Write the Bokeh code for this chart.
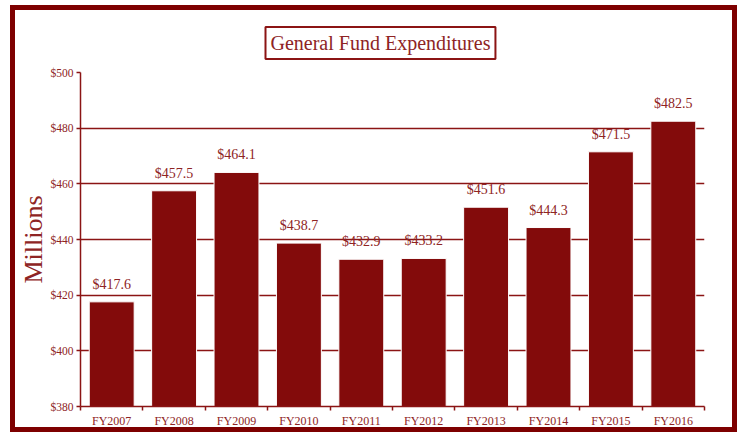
from bokeh.plotting import figure
from bokeh.models import Range1d, FixedTicker, ColumnDataSource, LabelSet, NumeralTickFormatter
from bokeh.embed import file_html
from bokeh.resources import INLINE

# ---- data ----
categories = ["FY2007", "FY2008", "FY2009", "FY2010", "FY2011",
              "FY2012", "FY2013", "FY2014", "FY2015", "FY2016"]
expenditures = [417.6, 457.5, 464.1, 438.7, 432.9, 433.2, 451.6, 444.3, 471.5, 482.5]
y_ticks = [380, 400, 420, 440, 460, 480, 500]
title_text = "General Fund Expenditures"
y_label = "Millions"

BAR = "#830B0B"
LINE = "#8B1414"
TEXT = "#8E2424"
FONT = "Liberation Serif"

n = len(categories)
centers = [i + 0.5 for i in range(n)]
bounds = [float(i) for i in range(n + 1)]
labels = ["$%.1f" % v for v in expenditures]

src = ColumnDataSource(dict(x=centers, top=expenditures, cat=categories, lab=labels))

p = figure(width=727, height=427, output_backend="svg", toolbar_location=None,
           x_range=Range1d(0, n), y_range=Range1d(y_ticks[0], y_ticks[-1]),
           min_border_left=65, min_border_right=38, min_border_top=62,
           min_border_bottom=31, title=title_text)
p.styles = {"border": "5px solid #7E0000", "margin-left": "10px", "margin-top": "5px"}
p.outline_line_color = None
p.background_fill_color = "white"
p.border_fill_color = "white"

# title with box
p.title.align = "left"
p.title.offset = 185
p.title.text_font = FONT
p.title.text_font_size = "20px"
p.title.text_font_style = "normal"
p.title.text_color = TEXT
p.title.border_line_color = LINE
p.title.border_line_width = 2
p.title.padding = 5
p.title.standoff = 27

p.vbar(x="x", top="top", bottom=y_ticks[0], width=0.72, source=src,
       fill_color=BAR, line_color="white", line_width=1)

labs = LabelSet(x="x", y="top", text="lab", source=src, text_align="center",
                text_baseline="alphabetic", y_offset=13, text_font=FONT,
                text_font_size="14px", text_color=TEXT)
p.add_layout(labs)

# y axis
ya = p.yaxis[0]
ya.ticker = FixedTicker(ticks=y_ticks)
ya.formatter = NumeralTickFormatter(format="$0")
ya.axis_label = y_label
ya.axis_label_text_font = FONT
ya.axis_label_text_font_size = "26px"
ya.axis_label_text_font_style = "normal"
ya.axis_label_text_color = TEXT
ya.axis_label_standoff = 0
ya.major_label_text_font = FONT
ya.major_label_text_font_size = "11.5px"
ya.major_label_text_color = TEXT
ya.major_label_standoff = 3
ya.axis_line_color = LINE
ya.axis_line_width = 1.5
ya.major_tick_line_color = LINE
ya.major_tick_line_width = 1.5
ya.major_tick_in = 0
ya.major_tick_out = 4
ya.minor_tick_line_color = None

# x axis: labels at bar centres, ticks at category boundaries
xa = p.xaxis[0]
xa.ticker = FixedTicker(ticks=centers, minor_ticks=bounds)
xa.major_label_overrides = {c: cat for c, cat in zip(centers, categories)}
xa.major_label_text_font = FONT
xa.major_label_text_font_size = "12px"
xa.major_label_text_color = TEXT
xa.major_label_standoff = 3
xa.axis_line_color = LINE
xa.axis_line_width = 1.5
xa.major_tick_line_color = None
xa.major_tick_in = 0
xa.major_tick_out = 4
xa.minor_tick_line_color = LINE
xa.minor_tick_line_width = 1.5
xa.minor_tick_in = 0
xa.minor_tick_out = 4

p.xgrid.grid_line_color = None
p.ygrid.grid_line_color = LINE
p.ygrid.grid_line_width = 1.5

open("out.html", "w").write(file_html(p, INLINE))
